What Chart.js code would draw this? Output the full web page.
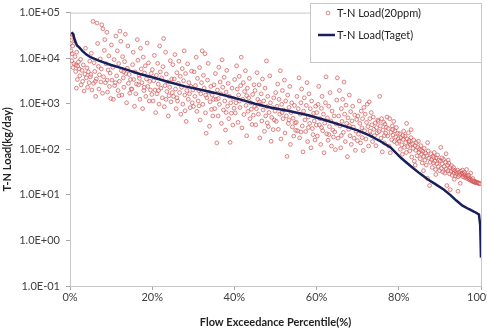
<!DOCTYPE html>
<html>
<head>
<meta charset="utf-8">
<script src="https://cdn.jsdelivr.net/npm/chart.js@4"></script>
<style>
  body { margin: 0; background: #fff; }
  #wrap { width: 487px; height: 333px; }
</style>
</head>
<body>
<div id="wrap"><canvas id="loadChart" width="487" height="333"></canvas></div>
<script>
// Axis ticks
const pctTicks = [0, 20, 40, 60, 80, 100];
const pctTickLabels = ['0%', '20%', '40%', '60%', '80%', '100%'];
const loadTicks = [0.1, 1, 10, 100, 1000, 10000, 100000];
const loadTickLabels = ['1.0E-01', '1.0E+00', '1.0E+01', '1.0E+02', '1.0E+03', '1.0E+04', '1.0E+05'];

// Series names
const seriesNames = ['T-N Load(20ppm)', 'T-N Load(Taget)'];

// Target load duration curve (percentile, kg/day)
const targetPct = [0.4, 0.8, 1.2, 1.7, 2.3, 3, 4, 5, 7, 10, 13, 17, 20, 24, 28, 31, 35, 38, 42, 45, 49, 53, 58, 62, 66, 70, 73, 75.5, 78, 80.5, 83, 85, 87, 89, 91, 92.5, 94, 95.5, 97, 98.5, 99.5, 99.8, 100];
const targetLoad = [37000, 33000, 24000, 19000, 17000, 14500, 12000, 10500, 8800, 7100, 5900, 4500, 3800, 3000, 2400, 2100, 1750, 1500, 1200, 1000, 820, 700, 560, 440, 340, 260, 200, 150, 110, 65, 42, 30, 22, 17, 13, 10, 7.5, 5.8, 4.9, 4.2, 3.7, 2.2, 0.42];

// Observed loads at 20ppm: [percentile, kg/day]
const observedLoad = [
  [0.12,21000],[0.25,14500],[0.31,29000],[0.44,8800],[0.52,12500],[0.66,18500],[0.73,6200],[0.95,7600],[1.08,24000],[1.21,10800],[1.37,5100],[1.46,7100],[1.63,13500],[1.79,3400],[1.88,6700],[2.06,8300],[2.21,5800],[2.39,4100],[2.58,9400],[2.71,2600],[2.93,5400],[3.07,3100],[3.24,7100],[3.42,1900],[3.61,4500],[3.77,16500],[3.96,3700],[4.13,6100],[4.29,2300],[4.47,5000],[4.66,2900],[4.81,8600],[4.94,3900],[0.58,33000],[1.55,2200],
  [5.07,4400],[5.19,12800],[5.33,2000],[5.58,64000],[5.71,2800],[5.86,7900],[6.04,5100],[6.23,1450],[6.41,3500],[6.58,59000],[6.72,21000],[6.89,6600],[7.03,2100],[7.17,4300],[7.36,9600],[7.52,3000],[7.74,54000],[7.91,1700],[8.02,44000],[8.16,3900],[8.35,14800],[8.47,25500],[8.63,2900],[8.81,7500],[8.97,37000],[9.12,1800],[9.28,5500],[9.44,11200],[9.61,2400],[9.76,4700],[9.93,1300],[6.15,3100],[7.62,5800],[9.05,3300],
  [10.08,19500],[10.22,3300],[10.41,6300],[10.57,1250],[10.73,9300],[10.86,2500],[11.03,2900],[11.18,30500],[11.34,4100],[11.52,14500],[11.69,1950],[11.83,7600],[12.01,3100],[12.14,39000],[12.36,23500],[12.49,5300],[12.62,1550],[12.81,10800],[12.97,3700],[13.12,2300],[13.28,8400],[13.47,33500],[13.59,4600],[13.76,1050],[13.93,6000],[14.08,18500],[14.21,2800],[14.39,4400],[14.55,1700],[14.72,3400],[14.88,2100],[11.91,1500],[13.05,5000],
  [15.06,2100],[15.23,7200],[15.38,13500],[15.51,3400],[15.69,880],[15.84,5000],[16.02,1650],[16.19,2700],[16.37,25500],[16.52,9000],[16.68,2600],[16.83,4200],[17.01,1250],[17.16,16500],[17.34,5800],[17.49,2900],[17.67,780],[17.82,10500],[17.98,1950],[18.13,4700],[18.31,6800],[18.44,1450],[18.62,3500],[18.78,21500],[18.93,2400],[19.09,7900],[19.27,1150],[19.43,3100],[19.58,2000],[19.74,4600],[19.91,1600],[16.9,3600],[18.05,2300],
  [20.04,5600],[20.21,1150],[20.36,3200],[20.52,11500],[20.69,2000],[20.85,640],[21.02,4200],[21.17,1650],[21.33,7700],[21.48,2700],[21.66,980],[21.81,18500],[21.97,5000],[22.12,2200],[22.29,3700],[22.46,1350],[22.63,6500],[22.78,27000],[22.94,860],[23.11,2500],[23.26,13500],[23.43,4500],[23.58,1850],[23.77,3000],[23.92,540],[24.09,1500],[24.26,2300],[24.41,8800],[24.57,1100],[24.74,3500],[24.89,1750],[21.55,1950],[23.35,1250],
  [25.03,7200],[25.18,1450],[25.36,3500],[25.52,12000],[25.67,2100],[25.83,780],[26.01,4800],[26.16,1150],[26.34,2800],[26.49,8600],[26.66,1750],[26.82,4000],[26.97,590],[27.14,2300],[27.31,5900],[27.46,980],[27.63,3200],[27.79,14500],[27.94,1550],[28.12,4600],[28.27,410],[28.43,1950],[28.61,7500],[28.77,1250],[28.92,2900],[29.08,1650],[29.26,820],[29.41,2400],[29.58,5200],[29.73,1050],[29.89,2000],[26.0,1350],[28.0,700],
  [30.05,870],[30.21,5000],[30.38,1450],[30.53,2500],[30.71,10500],[30.86,680],[31.03,3600],[31.19,1150],[31.34,1950],[31.52,6200],[31.68,440],[31.83,1650],[31.99,2900],[32.16,14500],[32.31,970],[32.47,4200],[32.64,2200],[32.82,12500],[32.97,630],[33.13,225],[33.29,1350],[33.46,3300],[33.62,7700],[33.78,1800],[33.93,320],[34.09,1100],[34.26,2400],[34.42,750],[34.59,1550],[34.74,540],[34.91,1250],[31.4,900],[33.0,1550],
  [35.04,2600],[35.21,780],[35.37,4600],[35.55,1250],[35.72,138],[35.87,2000],[36.04,540],[36.21,6300],[36.36,970],[36.53,3000],[36.69,1650],[36.84,370],[37.02,9200],[37.17,2300],[37.33,730],[37.51,3800],[37.66,1150],[37.83,265],[37.98,1800],[38.14,5400],[38.31,880],[38.47,2800],[38.63,470],[38.79,1450],[38.96,142],[39.12,1050],[39.27,620],[39.44,2200],[39.61,340],[39.77,1300],[39.92,800],[36.1,1300],[38.0,640],
  [40.06,3400],[40.22,630],[40.39,1050],[40.54,6800],[40.71,2100],[40.88,390],[41.03,1550],[41.19,4000],[41.36,830],[41.52,2500],[41.67,10500],[41.84,295],[42.01,1250],[42.17,2900],[42.33,580],[42.49,1850],[42.68,5300],[42.83,920],[42.98,198],[43.16,2200],[43.31,680],[43.47,1350],[43.64,3600],[43.79,470],[43.95,1050],[44.12,760],[44.28,350],[44.45,1600],[44.61,560],[44.77,2600],[44.93,870],[41.2,1150],[43.0,1500],
  [45.03,1950],[45.19,345],[45.36,780],[45.52,4800],[45.68,1250],[45.84,590],[46.02,2600],[46.18,178],[46.34,960],[46.51,1650],[46.67,420],[46.83,3500],[46.99,730],[47.14,1150],[47.31,248],[47.47,2200],[47.62,540],[47.79,8700],[47.96,870],[48.12,1450],[48.27,315],[48.43,640],[48.61,4100],[48.77,1050],[48.93,150],[49.09,500],[49.26,820],[49.42,270],[49.57,1350],[49.74,440],[49.9,690],[46.1,1100],[48.0,380],
  [50.04,1750],[50.21,410],[50.37,880],[50.53,2700],[50.69,275],[50.86,1250],[51.02,590],[51.18,5300],[51.34,168],[51.51,970],[51.67,1950],[51.83,470],[51.99,730],[52.16,3300],[52.32,228],[52.48,1150],[52.65,540],[52.81,70],[52.97,1550],[53.14,370],[53.29,830],[53.46,2400],[53.62,128],[53.78,640],[53.94,1050],[54.11,310],[54.27,480],[54.44,195],[54.61,920],[54.76,380],[54.92,260],[51.6,640],[53.3,440],
  [55.06,390],[55.22,1450],[55.38,255],[55.54,780],[55.71,3700],[55.87,178],[56.03,590],[56.19,1050],[56.36,2100],[56.52,325],[56.68,88],[56.84,690],[57.01,1350],[57.17,440],[57.33,245],[57.49,920],[57.66,2900],[57.82,148],[57.98,510],[58.14,1650],[58.31,370],[58.47,780],[58.63,108],[58.79,1150],[58.96,285],[59.12,210],[59.28,620],[59.44,420],[59.61,160],[59.77,880],[59.93,340],[56.2,240],[58.0,300],
  [60.03,640],[60.19,196],[60.36,970],[60.52,2400],[60.68,345],[60.84,470],[61.01,128],[61.17,790],[61.33,1450],[61.49,255],[61.66,590],[61.82,84],[61.98,375],[62.14,1050],[62.31,3900],[62.47,218],[62.63,490],[62.79,158],[62.96,880],[63.12,315],[63.28,1750],[63.45,420],[63.61,118],[63.77,690],[63.94,265],[64.09,185],[64.26,540],[64.42,240],[64.58,98],[64.74,360],[64.91,1200],[61.2,300],[63.0,210],
  [65.05,3700],[65.21,176],[65.37,540],[65.53,1950],[65.69,325],[65.86,108],[66.02,780],[66.18,410],[66.35,1250],[66.51,235],[66.67,3000],[66.83,590],[66.99,148],[67.16,930],[67.32,370],[67.48,69],[67.64,490],[67.81,275],[67.97,1550],[68.13,198],[68.29,670],[68.46,128],[68.62,420],[68.78,880],[68.94,305],[69.11,176],[69.27,560],[69.43,95],[69.59,250],[69.76,450],[69.92,155],[66.0,200],[68.0,330],
  [70.04,540],[70.2,215],[70.37,1150],[70.53,370],[70.69,138],[70.86,690],[71.02,295],[71.18,470],[71.35,94],[71.51,830],[71.67,255],[71.83,590],[71.99,168],[72.16,390],[72.32,980],[72.48,315],[72.64,118],[72.81,1100],[72.97,470],[73.13,205],[73.29,640],[73.46,345],[73.62,148],[73.78,510],[73.94,275],[74.11,200],[74.27,380],[74.43,120],[74.59,300],[74.76,230],[74.92,440],[71.1,180],[73.0,250],
  [75.04,410],[75.19,245],[75.35,1450],[75.51,325],[75.67,176],[75.83,470],[75.99,88],[76.16,265],[76.32,390],[76.48,138],[76.64,355],[76.81,225],[76.97,305],[77.13,510],[77.29,196],[77.46,285],[77.62,118],[77.78,470],[77.94,84],[78.11,235],[78.27,162],[78.43,325],[78.59,205],[78.76,410],[78.92,148],[79.08,255],[79.24,186],[79.41,300],[79.57,135],[79.73,225],[79.89,170],[76.5,200],[78.5,270],
  [80.06,150],[80.22,220],[80.38,100],[80.54,180],[80.71,125],[80.87,78],[81.03,165],[81.19,250],[81.36,110],[81.52,195],[81.68,140],[81.84,85],[82.01,170],[82.17,115],[82.33,230],[82.49,145],[82.66,92],[82.82,125],[82.98,180],[83.14,68],[83.31,130],[83.47,105],[83.63,160],[83.79,55],[83.96,120],[84.12,95],[84.28,140],[84.44,72],[84.61,110],[84.77,150],[84.93,85],[81.9,370],[83.0,270],[84.0,45],[81.0,200],[82.5,155],
  [85.04,100],[85.21,62],[85.37,120],[85.53,78],[85.69,50],[85.86,90],[86.02,70],[86.18,105],[86.34,58],[86.51,82],[86.67,45],[86.83,72],[86.99,23],[87.16,92],[87.32,64],[87.48,16],[87.64,52],[87.81,80],[87.97,60],[88.13,40],[88.29,70],[88.46,50],[88.62,85],[88.78,55],[88.94,36],[89.11,65],[89.27,48],[89.43,75],[89.59,42],[89.76,58],[89.92,34],[86.0,34],[87.0,140],[89.0,28],[85.5,95],[88.5,66],
  [90.07,55],[90.21,110],[90.38,38],[90.55,48],[90.71,32],[90.88,60],[91.04,42],[91.21,30],[91.37,52],[91.53,37],[91.69,16],[91.86,45],[92.02,34],[92.18,50],[92.34,29],[92.51,40],[92.67,33],[92.83,44],[92.99,27],[93.16,36],[93.32,40],[93.48,30],[93.64,34],[93.81,26],[93.97,32],[94.13,29],[94.29,35],[94.46,25],[94.62,31],[94.78,27],[94.94,18],[91.5,80],[93.5,22],[92.5,13],[94.4,12],[90.5,65],[92.0,58],
  [95.08,33],[95.24,28],[95.41,30],[95.57,25],[95.73,29],[95.89,27],[96.06,24],[96.22,28],[96.38,25],[96.54,23],[96.71,26],[96.87,24],[97.03,22],[97.19,23],[97.36,21],[97.52,22],[97.68,20.5],[97.84,21],[98.01,19.5],[98.17,20],[98.33,19],[98.49,20],[98.66,18.5],[98.82,19],[98.98,18.5],[99.14,18.5],[99.31,18],[99.47,18.2],[99.63,17.8],[99.79,17.5],[96.5,36],[97.5,30],[95.5,35],[96.0,31],[97.0,27],[98.0,23]
];

const pointRed = 'rgba(205, 75, 75, 0.65)';
const lineNavy = '#17205a';
const axisGrey = '#a6a6a6';

Chart.defaults.font.family = "Lato, 'Open Sans', sans-serif";
Chart.defaults.font.size = 11;
Chart.defaults.color = '#404040';

// Plot frame (top/right edges) and the boxed legend in the top-right corner
const frameAndLegend = {
    id: 'frameAndLegend',
    beforeDatasetsDraw(chart) {
        const { ctx, chartArea: a } = chart;
        ctx.save();
        ctx.strokeStyle = '#c8c8c8';
        ctx.lineWidth = 1;
        ctx.strokeRect(a.left + 0.5, a.top + 0.5, a.right - a.left, a.bottom - a.top);
        ctx.restore();
    },
    afterDraw(chart) {
        const ctx = chart.ctx;
        ctx.save();
        ctx.fillStyle = '#fff';
        ctx.fillRect(310, 3, 172, 59);
        ctx.strokeStyle = '#c8c8c8';
        ctx.strokeRect(310.5, 3.5, 171, 59);
        // observed marker
        ctx.beginPath();
        ctx.arc(328, 13, 1.9, 0, Math.PI * 2);
        ctx.strokeStyle = pointRed;
        ctx.stroke();
        // target line sample
        ctx.beginPath();
        ctx.moveTo(318, 35);
        ctx.lineTo(335, 35);
        ctx.strokeStyle = lineNavy;
        ctx.lineWidth = 2.5;
        ctx.stroke();
        ctx.fillStyle = '#222';
        ctx.font = "11px Lato, 'Open Sans', sans-serif";
        ctx.textBaseline = 'middle';
        ctx.fillText(seriesNames[0], 337, 13);
        ctx.fillText(seriesNames[1], 337, 35);
        ctx.restore();
    }
};

const ctx = document.getElementById('loadChart').getContext('2d');
window.loadChartInstance = new Chart(ctx, {
    type: 'scatter',
    data: {
        datasets: [{
            label: seriesNames[0],
            data: observedLoad.map(p => ({ x: p[0], y: p[1] })),
            pointRadius: 1.9,
            pointBorderWidth: 1,
            borderColor: pointRed,
            backgroundColor: 'rgba(255, 220, 220, 0.25)',
            order: 2
        }, {
            label: seriesNames[1],
            data: targetPct.map((p, i) => ({ x: p, y: targetLoad[i] })),
            showLine: true,
            borderColor: lineNavy,
            borderWidth: 2.5,
            pointRadius: 0,
            tension: 0,
            order: 1
        }]
    },
    options: {
        responsive: false,
        animation: false,
        layout: { padding: { top: 4, right: 6, left: 0, bottom: 0 } },
        plugins: {
            legend: { display: false },
            tooltip: { enabled: false }
        },
        scales: {
            x: {
                type: 'linear',
                min: 0,
                max: 100,
                afterBuildTicks: s => { s.ticks = pctTicks.map(v => ({ value: v })); },
                afterFit: s => { s.height = 47; s.paddingLeft = 0; s.paddingRight = 0; },
                ticks: {
                    padding: 1,
                    maxRotation: 0,
                    color: '#404040',
                    callback: (v, i) => pctTickLabels[i]
                },
                grid: { drawOnChartArea: false, tickLength: 4, color: axisGrey },
                border: { color: axisGrey },
                title: {
                    display: true,
                    text: 'Flow Exceedance Percentile(%)',
                    color: '#222',
                    font: { weight: 'bold', size: 11 },
                    padding: { top: 0, bottom: 4 }
                }
            },
            y: {
                type: 'logarithmic',
                min: 0.1,
                max: 100000,
                afterBuildTicks: s => { s.ticks = loadTicks.map(v => ({ value: v })); },
                afterFit: s => { s.width = 70; },
                ticks: {
                    padding: 6,
                    color: '#404040',
                    callback: (v, i) => loadTickLabels[i]
                },
                grid: { drawOnChartArea: false, tickLength: 4, color: axisGrey },
                border: { color: axisGrey },
                title: {
                    display: true,
                    text: 'T-N Load(kg/day)',
                    color: '#222',
                    font: { weight: 'bold', size: 11 },
                    padding: { top: 1, bottom: 0 }
                }
            }
        }
    },
    plugins: [frameAndLegend]
});
</script>
</body>
</html>
